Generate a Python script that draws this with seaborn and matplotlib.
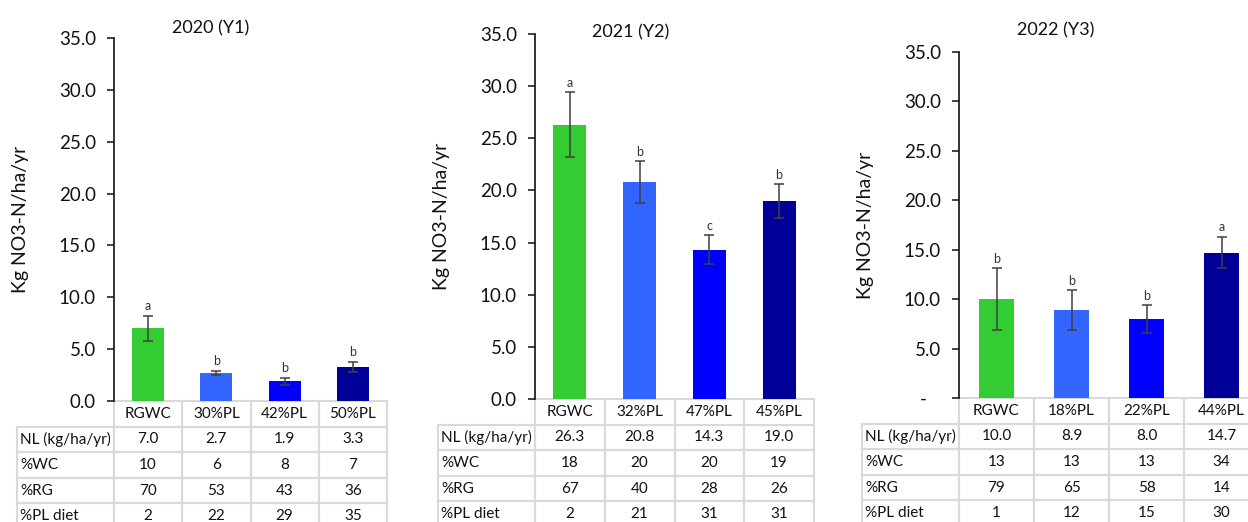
import matplotlib
matplotlib.use("Agg")
import matplotlib.pyplot as plt
import seaborn as sns
import pandas as pd

sns.set_theme(style="white")
plt.rcParams["font.family"] = ["Lato", "DejaVu Sans"]

# ---- data ----
years = ["2020 (Y1)", "2021 (Y2)", "2022 (Y3)"]
treatments = [
    ["RGWC", "30%PL", "42%PL", "50%PL"],
    ["RGWC", "32%PL", "47%PL", "45%PL"],
    ["RGWC", "18%PL", "22%PL", "44%PL"],
]
nitrate_loss = [
    [7.0, 2.7, 1.9, 3.3],
    [26.3, 20.8, 14.3, 19.0],
    [10.0, 8.9, 8.0, 14.7],
]
std_err = [
    [1.2, 0.2, 0.35, 0.5],
    [3.1, 2.0, 1.4, 1.6],
    [3.1, 2.0, 1.4, 1.6],
]
letters = [
    ["a", "b", "b", "b"],
    ["a", "b", "c", "b"],
    ["b", "b", "b", "a"],
]
pct_wc = [
    [10, 6, 8, 7],
    [18, 20, 20, 19],
    [13, 13, 13, 34],
]
pct_rg = [
    [70, 53, 43, 36],
    [67, 40, 28, 26],
    [79, 65, 58, 14],
]
pct_pl_diet = [
    [2, 22, 29, 35],
    [2, 21, 31, 31],
    [1, 12, 15, 30],
]
row_labels = ["NL (kg/ha/yr)", "%WC", "%RG", "%PL diet"]
bar_colors = ["#33CC33", "#3366FF", "#0000FF", "#000099"]
y_ticks = [0, 5, 10, 15, 20, 25, 30, 35]

# ---- layout (pixels of the 1248x522 canvas) ----
W, H = 1248, 522
panels = [
    dict(left=114, right=387, top=38, bottom=401, title=(211, 28), zero="0.0"),
    dict(left=535, right=814, top=34, bottom=399, title=(631, 32), zero="0.0"),
    dict(left=959, right=1259, top=52, bottom=398, title=(1056, 30), zero="-   "),
]
label_w = 97       # width of the row-label column in px
row_h = 25.6       # table row height in px
ylabel_x = [29, 450, 874]   # right edge of the rotated y label, px

fig = plt.figure(figsize=(W / 100, H / 100), dpi=100)
ink = "#111111"
grid = "#d9d9d9"

for i, p in enumerate(panels):
    aw = p["right"] - p["left"]
    ah = p["bottom"] - p["top"]
    ax = fig.add_axes([p["left"] / W, 1 - p["bottom"] / H, aw / W, ah / H])

    df = pd.DataFrame({"treatment": treatments[i], "value": nitrate_loss[i]})
    sns.barplot(data=df, x="treatment", y="value", hue="treatment",
                palette=bar_colors, width=0.47, legend=False, ax=ax,
                linewidth=0, saturation=1)
    ax.errorbar(range(4), nitrate_loss[i], yerr=std_err[i], fmt="none",
                ecolor="#404040", elinewidth=1.1, capsize=3.5, capthick=1.1)
    for j, (v, e, lt) in enumerate(zip(nitrate_loss[i], std_err[i], letters[i])):
        ax.text(j, v + e + 0.35, lt, ha="center", va="bottom",
                fontsize=9, color="#333333")

    ax.set_xlim(-0.5, 3.5)
    ax.set_ylim(0, 35)
    ax.set_yticks(y_ticks)
    ax.set_yticklabels([p["zero"]] + [f"{t:.1f}" for t in y_ticks[1:]],
                       fontsize=13.5, color=ink)
    ax.tick_params(axis="y", direction="out", length=5, width=1.1,
                   color=ink, left=True, pad=8)
    ax.set_xticks([])
    ax.set_xlabel("")
    ax.set_ylabel("Kg NO3-N/ha/yr", fontsize=14, color=ink)
    ax.yaxis.set_label_coords((ylabel_x[i] - p["left"]) / aw, 0.5)
    for s in ["top", "right", "bottom"]:
        ax.spines[s].set_visible(False)
    ax.spines["left"].set_color(ink)
    ax.spines["left"].set_linewidth(1.2)

    tx, ty = p["title"]
    ax.text((tx - p["left"]) / aw, (p["bottom"] - ty) / ah, years[i],
            transform=ax.transAxes, ha="center", va="center",
            fontsize=13, color=ink)

    # data table under the bars
    cell_text = [[""] + treatments[i]]
    cell_text.append([row_labels[0]] + [f"{v:.1f}" for v in nitrate_loss[i]])
    cell_text.append([row_labels[1]] + [str(v) for v in pct_wc[i]])
    cell_text.append([row_labels[2]] + [str(v) for v in pct_rg[i]])
    cell_text.append([row_labels[3]] + [str(v) for v in pct_pl_diet[i]])

    lw = label_w / aw
    th = 5 * row_h / ah
    tbl = ax.table(cellText=cell_text, colWidths=[lw, 0.25, 0.25, 0.25, 0.25],
                   cellLoc="center", bbox=[-lw, -th, 1 + lw, th])
    tbl.auto_set_font_size(False)
    tbl.set_fontsize(11)
    for (r, c), cell in tbl.get_celld().items():
        cell.set_edgecolor(grid)
        cell.set_linewidth(1.5)
        cell.set_facecolor("none")
        cell.get_text().set_color(ink)
        if c == 0:
            cell.PAD = 0.03
            cell.get_text().set_horizontalalignment("left")
            cell._loc = "left"
        if r == 0 and c == 0:
            cell.visible_edges = "open"

fig.savefig("out.png", dpi=100)
